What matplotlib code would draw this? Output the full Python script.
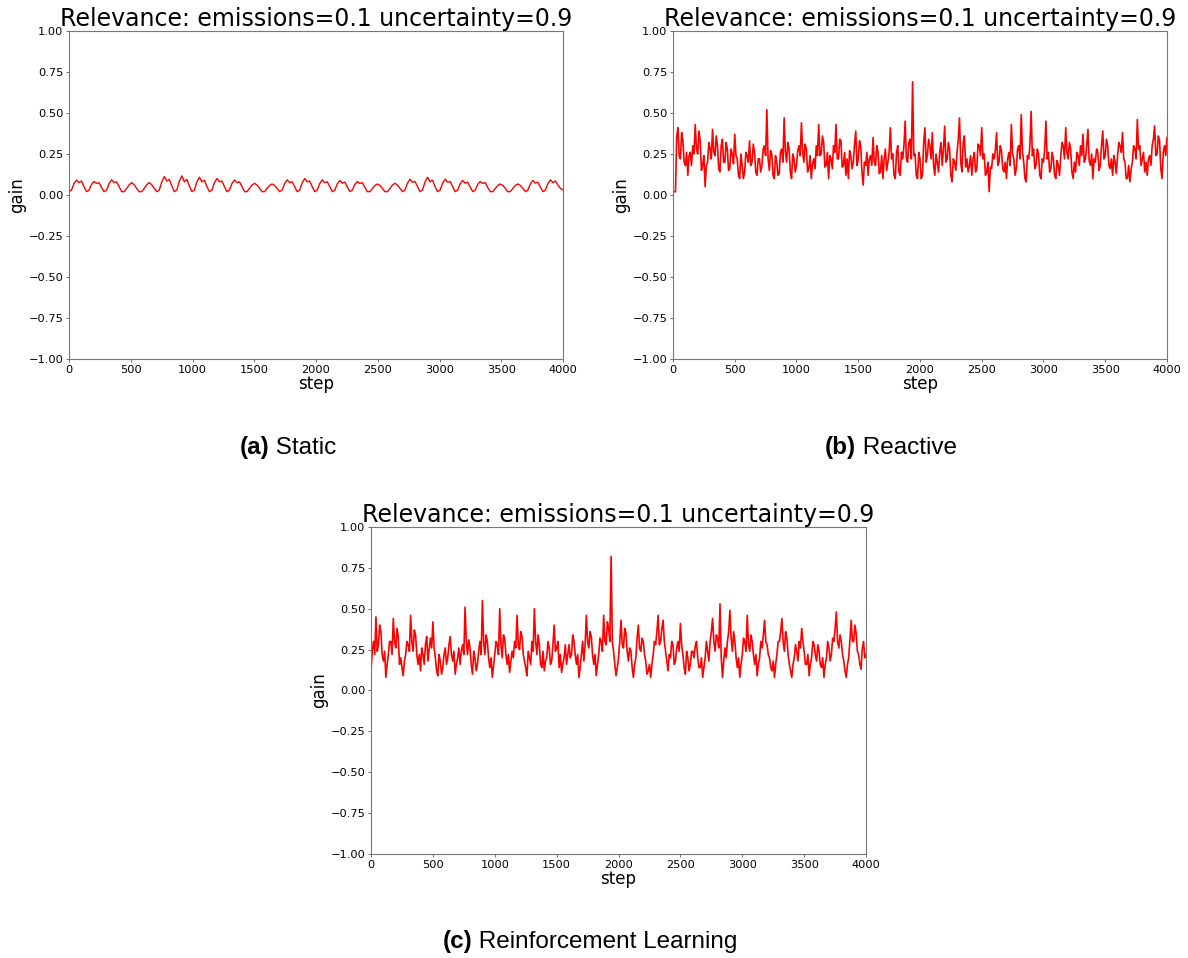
import numpy as np
import matplotlib
matplotlib.use("Agg")
import matplotlib.pyplot as plt
from matplotlib import font_manager as fm
from matplotlib.offsetbox import TextArea, HPacker, AnnotationBbox

TITLE = "Relevance: emissions=0.1 uncertainty=0.9"
X_TICKS = [0, 500, 1000, 1500, 2000, 2500, 3000, 3500, 4000]
Y_TICKS = [-1.0, -0.75, -0.5, -0.25, 0.0, 0.25, 0.5, 0.75, 1.0]
CAPTIONS = [("(a)", " Static"), ("(b)", " Reactive"), ("(c)", " Reinforcement Learning")]

# (a) Static: gain (periodic bumps)
static_gain = [
    0.02,
    0.03, 0.07, 0.09, 0.075, 0.085, 0.05, 0.02,
    0.03, 0.065, 0.082, 0.07, 0.075, 0.045, 0.02,
    0.03, 0.07, 0.092, 0.075, 0.08, 0.05, 0.02,
    0.02, 0.04, 0.062, 0.075, 0.062, 0.04, 0.02,
    0.02, 0.04, 0.062, 0.075, 0.062, 0.04, 0.02,
    0.03, 0.08, 0.112, 0.085, 0.095, 0.055, 0.02,
    0.03, 0.085, 0.116, 0.08, 0.095, 0.055, 0.02,
    0.03, 0.08, 0.108, 0.08, 0.09, 0.05, 0.02,
    0.03, 0.075, 0.10, 0.08, 0.085, 0.05, 0.02,
    0.03, 0.07, 0.092, 0.075, 0.08, 0.05, 0.02,
    0.02, 0.04, 0.06, 0.071, 0.06, 0.04, 0.02,
    0.02, 0.04, 0.058, 0.067, 0.058, 0.04, 0.02,
    0.03, 0.07, 0.092, 0.075, 0.08, 0.05, 0.02,
    0.03, 0.075, 0.10, 0.08, 0.085, 0.05, 0.02,
    0.03, 0.07, 0.092, 0.075, 0.08, 0.05, 0.02,
    0.03, 0.068, 0.088, 0.072, 0.078, 0.048, 0.02,
    0.03, 0.065, 0.082, 0.07, 0.075, 0.045, 0.02,
    0.02, 0.04, 0.058, 0.067, 0.058, 0.04, 0.02,
    0.02, 0.04, 0.06, 0.071, 0.06, 0.04, 0.02,
    0.03, 0.072, 0.096, 0.078, 0.082, 0.05, 0.02,
    0.03, 0.08, 0.108, 0.08, 0.09, 0.05, 0.02,
    0.03, 0.072, 0.096, 0.078, 0.082, 0.05, 0.02,
    0.03, 0.068, 0.088, 0.072, 0.078, 0.048, 0.02,
    0.03, 0.065, 0.082, 0.07, 0.075, 0.045, 0.02,
    0.02, 0.04, 0.058, 0.067, 0.058, 0.04, 0.02,
    0.02, 0.04, 0.058, 0.067, 0.058, 0.04, 0.02,
    0.03, 0.068, 0.088, 0.072, 0.078, 0.048, 0.02,
    0.03, 0.07, 0.092, 0.075, 0.085, 0.06, 0.04,
    0.03,
]

# (b) Reactive: gain every 10 steps
reactive_gain = [
    0.02, 0.02, 0.02, 0.36, 0.41, 0.24, 0.22, 0.38, 0.33, 0.20,
    0.18, 0.26, 0.12, 0.24, 0.26, 0.18, 0.30, 0.25, 0.43, 0.28,
    0.25, 0.39, 0.33, 0.15, 0.18, 0.24, 0.05, 0.18, 0.20, 0.32,
    0.28, 0.22, 0.40, 0.26, 0.24, 0.36, 0.30, 0.16, 0.14, 0.30,
    0.34, 0.20, 0.20, 0.32, 0.28, 0.15, 0.16, 0.28, 0.25, 0.19,
    0.37, 0.24, 0.22, 0.12, 0.10, 0.25, 0.18, 0.10, 0.14, 0.26,
    0.24, 0.20, 0.33, 0.18, 0.20, 0.31, 0.26, 0.14, 0.12, 0.22,
    0.22, 0.14, 0.18, 0.28, 0.30, 0.24, 0.52, 0.22, 0.15, 0.27,
    0.25, 0.12, 0.10, 0.24, 0.20, 0.12, 0.13, 0.26, 0.28, 0.20,
    0.47, 0.26, 0.20, 0.32, 0.28, 0.14, 0.10, 0.25, 0.22, 0.14,
    0.18, 0.27, 0.30, 0.24, 0.44, 0.26, 0.20, 0.31, 0.28, 0.14,
    0.16, 0.24, 0.10, 0.19, 0.22, 0.16, 0.30, 0.24, 0.43, 0.24,
    0.25, 0.36, 0.32, 0.17, 0.18, 0.26, 0.10, 0.24, 0.22, 0.16,
    0.30, 0.26, 0.43, 0.22, 0.22, 0.34, 0.33, 0.17, 0.18, 0.26,
    0.12, 0.22, 0.10, 0.27, 0.24, 0.16, 0.20, 0.31, 0.39, 0.18,
    0.22, 0.33, 0.30, 0.14, 0.06, 0.20, 0.18, 0.26, 0.12, 0.22,
    0.24, 0.18, 0.35, 0.20, 0.18, 0.30, 0.26, 0.13, 0.14, 0.24,
    0.10, 0.22, 0.28, 0.15, 0.20, 0.26, 0.41, 0.22, 0.25, 0.12,
    0.10, 0.26, 0.30, 0.14, 0.12, 0.26, 0.22, 0.30, 0.45, 0.22,
    0.20, 0.32, 0.34, 0.22, 0.69, 0.24, 0.25, 0.12, 0.10, 0.26,
    0.22, 0.10, 0.12, 0.32, 0.41, 0.20, 0.24, 0.34, 0.30, 0.22,
    0.38, 0.18, 0.12, 0.25, 0.20, 0.14, 0.26, 0.32, 0.18, 0.28,
    0.42, 0.20, 0.22, 0.32, 0.28, 0.12, 0.08, 0.22, 0.20, 0.15,
    0.26, 0.34, 0.47, 0.20, 0.14, 0.32, 0.36, 0.17, 0.22, 0.14,
    0.18, 0.24, 0.12, 0.22, 0.26, 0.14, 0.16, 0.31, 0.30, 0.24,
    0.41, 0.22, 0.25, 0.12, 0.14, 0.20, 0.02, 0.17, 0.16, 0.25,
    0.22, 0.27, 0.38, 0.18, 0.20, 0.30, 0.27, 0.16, 0.14, 0.20,
    0.10, 0.22, 0.26, 0.18, 0.43, 0.25, 0.22, 0.12, 0.16, 0.28,
    0.30, 0.22, 0.49, 0.26, 0.20, 0.10, 0.08, 0.24, 0.22, 0.30,
    0.51, 0.24, 0.28, 0.16, 0.18, 0.28, 0.25, 0.12, 0.10, 0.22,
    0.20, 0.28, 0.45, 0.22, 0.26, 0.14, 0.16, 0.26, 0.22, 0.12,
    0.10, 0.21, 0.18, 0.12, 0.24, 0.32, 0.30, 0.22, 0.41, 0.26,
    0.22, 0.32, 0.28, 0.14, 0.10, 0.20, 0.14, 0.26, 0.24, 0.18,
    0.30, 0.24, 0.37, 0.20, 0.22, 0.30, 0.40, 0.21, 0.18, 0.25,
    0.10, 0.22, 0.20, 0.28, 0.26, 0.15, 0.18, 0.30, 0.39, 0.22,
    0.24, 0.34, 0.30, 0.18, 0.16, 0.22, 0.12, 0.24, 0.20, 0.13,
    0.24, 0.32, 0.30, 0.26, 0.38, 0.22, 0.20, 0.10, 0.10, 0.18,
    0.08, 0.16, 0.20, 0.30, 0.28, 0.22, 0.46, 0.28, 0.30, 0.18,
    0.22, 0.26, 0.14, 0.20, 0.12, 0.22, 0.24, 0.18, 0.30, 0.34,
    0.42, 0.24, 0.25, 0.36, 0.33, 0.16, 0.10, 0.26, 0.30, 0.24,
    0.35,
]

# (c) Reinforcement Learning: gain every 10 steps
rl_gain = [
    0.12, 0.24, 0.30, 0.22, 0.45, 0.24, 0.28, 0.40, 0.36, 0.22,
    0.18, 0.24, 0.08, 0.16, 0.22, 0.30, 0.30, 0.22, 0.44, 0.30,
    0.26, 0.38, 0.33, 0.16, 0.20, 0.14, 0.09, 0.18, 0.22, 0.30,
    0.28, 0.24, 0.46, 0.30, 0.24, 0.37, 0.34, 0.22, 0.16, 0.22,
    0.12, 0.26, 0.22, 0.16, 0.28, 0.33, 0.18, 0.25, 0.32, 0.26,
    0.42, 0.26, 0.20, 0.12, 0.09, 0.22, 0.18, 0.10, 0.14, 0.22,
    0.26, 0.16, 0.20, 0.28, 0.33, 0.22, 0.18, 0.24, 0.10, 0.16,
    0.20, 0.26, 0.16, 0.24, 0.28, 0.22, 0.51, 0.30, 0.22, 0.31,
    0.26, 0.16, 0.10, 0.24, 0.20, 0.12, 0.16, 0.24, 0.30, 0.22,
    0.55, 0.30, 0.22, 0.34, 0.30, 0.20, 0.14, 0.20, 0.08, 0.15,
    0.22, 0.30, 0.28, 0.22, 0.50, 0.28, 0.20, 0.34, 0.32, 0.22,
    0.16, 0.22, 0.11, 0.18, 0.24, 0.20, 0.30, 0.26, 0.46, 0.28,
    0.25, 0.36, 0.33, 0.22, 0.18, 0.14, 0.09, 0.24, 0.20, 0.16,
    0.30, 0.24, 0.50, 0.30, 0.22, 0.34, 0.28, 0.16, 0.14, 0.24,
    0.12, 0.18, 0.20, 0.30, 0.26, 0.16, 0.18, 0.28, 0.40, 0.24,
    0.26, 0.30, 0.14, 0.22, 0.11, 0.16, 0.20, 0.28, 0.16, 0.22,
    0.28, 0.20, 0.22, 0.34, 0.30, 0.22, 0.16, 0.22, 0.08, 0.14,
    0.22, 0.30, 0.18, 0.28, 0.46, 0.30, 0.26, 0.36, 0.33, 0.22,
    0.16, 0.22, 0.09, 0.16, 0.22, 0.32, 0.30, 0.24, 0.46, 0.30,
    0.28, 0.42, 0.38, 0.30, 0.82, 0.30, 0.24, 0.16, 0.09, 0.14,
    0.20, 0.30, 0.43, 0.28, 0.26, 0.38, 0.35, 0.24, 0.18, 0.26,
    0.24, 0.14, 0.08, 0.16, 0.20, 0.32, 0.40, 0.26, 0.24, 0.32,
    0.30, 0.22, 0.18, 0.10, 0.12, 0.16, 0.08, 0.16, 0.22, 0.30,
    0.28, 0.36, 0.46, 0.28, 0.30, 0.38, 0.43, 0.30, 0.24, 0.18,
    0.12, 0.22, 0.20, 0.30, 0.28, 0.16, 0.18, 0.26, 0.30, 0.24,
    0.41, 0.28, 0.22, 0.14, 0.10, 0.24, 0.20, 0.12, 0.16, 0.24,
    0.24, 0.20, 0.27, 0.30, 0.20, 0.14, 0.14, 0.20, 0.08, 0.14,
    0.20, 0.30, 0.24, 0.18, 0.30, 0.36, 0.44, 0.30, 0.24, 0.34,
    0.32, 0.26, 0.53, 0.20, 0.08, 0.18, 0.26, 0.20, 0.30, 0.36,
    0.49, 0.32, 0.24, 0.36, 0.30, 0.20, 0.14, 0.20, 0.08, 0.16,
    0.22, 0.32, 0.30, 0.24, 0.46, 0.28, 0.24, 0.34, 0.30, 0.22,
    0.16, 0.22, 0.09, 0.16, 0.20, 0.30, 0.26, 0.34, 0.43, 0.30,
    0.28, 0.22, 0.20, 0.14, 0.12, 0.18, 0.08, 0.16, 0.22, 0.30,
    0.30, 0.36, 0.44, 0.30, 0.24, 0.36, 0.32, 0.22, 0.16, 0.12,
    0.08, 0.16, 0.20, 0.28, 0.24, 0.18, 0.30, 0.26, 0.38, 0.30,
    0.24, 0.16, 0.16, 0.22, 0.09, 0.16, 0.20, 0.30, 0.28, 0.22,
    0.18, 0.28, 0.24, 0.16, 0.14, 0.20, 0.08, 0.16, 0.20, 0.30,
    0.26, 0.18, 0.22, 0.32, 0.30, 0.38, 0.48, 0.30, 0.26, 0.34,
    0.30, 0.22, 0.18, 0.12, 0.08, 0.16, 0.20, 0.32, 0.43, 0.30,
    0.30, 0.40, 0.35, 0.24, 0.22, 0.16, 0.13, 0.26, 0.30, 0.20,
    0.22,
]

SERIES = [static_gain, reactive_gain, rl_gain]
LINE_WIDTHS = [1.0, 1.2, 1.2]


def find_font(family, bold):
    for f in fm.fontManager.ttflist:
        if f.name == family and "Narrow" not in f.fname and "narrow" not in f.fname:
            is_bold = f.weight in ("bold", 700) or (isinstance(f.weight, int) and f.weight >= 600)
            if is_bold == bold and f.style == "normal":
                return fm.FontProperties(fname=f.fname, size=17.5)
    return fm.FontProperties(family="DejaVu Sans", weight="bold" if bold else "normal", size=17.5)


fp_bold = find_font("Liberation Sans", True)
fp_reg = find_font("Liberation Sans", False)

fig = plt.figure(figsize=(11.88, 9.58), dpi=100)
axes_rects = [
    [0.0581, 0.6253, 0.4158, 0.3424],
    [0.5665, 0.6253, 0.4158, 0.3424],
    [0.3123, 0.1086, 0.4167, 0.3413],
]
caption_pos = [(0.2424, 0.5334), (0.750, 0.5334), (0.4966, 0.0177)]

for rect, vals, lw, cap, cpos in zip(axes_rects, SERIES, LINE_WIDTHS, CAPTIONS, caption_pos):
    ax = fig.add_axes(rect)
    steps = np.linspace(0, 4000, len(vals))
    ax.plot(steps, vals, color="#ff0000", lw=lw)
    ax.set_xlim(0, 4000)
    ax.set_ylim(-1, 1)
    ax.set_xticks(X_TICKS)
    ax.set_yticks(Y_TICKS)
    ax.set_yticklabels([f"{v:.2f}".replace("-", "\u2212") for v in Y_TICKS])
    ax.tick_params(labelsize=8.2, length=2.5, width=0.6, pad=1.5, color="#555555")
    for s in ax.spines.values():
        s.set_color("#777777")
        s.set_linewidth(0.8)
    ax.set_title(TITLE, fontsize=17, pad=3)
    ax.set_xlabel("step", fontsize=12, labelpad=0)
    ax.set_ylabel("gain", fontsize=12, labelpad=2)

    t1 = TextArea(cap[0], textprops=dict(fontproperties=fp_bold))
    t2 = TextArea(cap[1], textprops=dict(fontproperties=fp_reg))
    box = HPacker(children=[t1, t2], align="baseline", pad=0, sep=0)
    ab = AnnotationBbox(box, cpos, xycoords="figure fraction", box_alignment=(0.5, 0.5), frameon=False)
    fig.add_artist(ab)

fig.savefig("out.png", dpi=100)
